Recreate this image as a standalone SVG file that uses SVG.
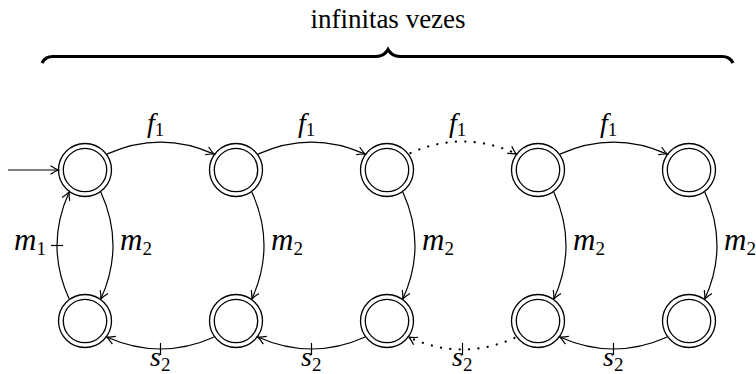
<svg xmlns="http://www.w3.org/2000/svg" width="756" height="374" viewBox="0 0 756 374">
<style>
.st{fill:none;stroke:#000;stroke-width:1.3}
.e{fill:none;stroke:#000;stroke-width:1.2}
.dot{stroke-width:2.2;stroke-linecap:round;stroke-dasharray:0.1 9.3}
.lbl{font-style:italic;font-size:28px;fill:#000}
.ml{font-size:31px}
.sub{font-style:normal;font-size:19px}
.txt{font-size:27px;fill:#000}
</style>
<defs>
<marker id="ar" markerUnits="userSpaceOnUse" viewBox="-10 -6 12 12" markerWidth="12" markerHeight="12" refX="0" refY="0" orient="auto" overflow="visible">
<path d="M -8 -4.2 Q -3 -1 0 0 Q -3 1 -8 4.2" fill="none" stroke="#000" stroke-width="1.2" stroke-dasharray="none"/>
</marker>
</defs>
<rect width="756" height="374" fill="#fff"/>
<g id="brace">
<path d="M 42 63 Q 45 56.5 53 56.5 L 376 56.5 Q 384 56.5 388 49.5 Q 392 56.5 400 56.5 L 722 56.5 Q 730 56.5 733 63" fill="none" stroke="#000" stroke-width="3.2"/>
<text class="txt" font-family="Liberation Serif, DejaVu Serif, serif" x="388" y="28" text-anchor="middle">infinitas vezes</text>
</g>
<g id="connectors">
<path class="e" d="M 8 170 L 58.5 170" marker-end="url(#ar)"/>
<path class="e" d="M 106.8 154.1 Q 160.5 130 214.2 154.1" marker-end="url(#ar)"/>
<path class="e" d="M 257.8 154.1 Q 311.5 130 365.2 154.1" marker-end="url(#ar)"/>
<path class="e dot" d="M 410.5 153 Q 462.5 130 514.5 153"/>
<path class="e" d="M 514.5 153 L 516.2 154.1" marker-end="url(#ar)"/>
<path class="e" d="M 559.8 154.1 Q 613.5 130 667.2 154.1" marker-end="url(#ar)"/>
<path class="e" d="M 214.2 337 Q 160.5 361 106.8 337" marker-end="url(#ar)"/>
<path class="e" d="M 365.2 337 Q 311.5 361 257.8 337" marker-end="url(#ar)"/>
<path class="e dot" d="M 514.5 338 Q 462.5 361 410.5 338"/>
<path class="e" d="M 410.5 338 L 408.8 337" marker-end="url(#ar)"/>
<path class="e" d="M 667.2 337 Q 613.5 361 559.8 337" marker-end="url(#ar)"/>
<path class="e" d="M 160.5 343 V 355 M 311.5 343 V 355 M 462.5 343 V 355 M 613.5 343 V 355"/>
<path class="e" d="M 100.8 191.9 Q 125.2 245.5 100.8 299.1" marker-end="url(#ar)"/>
<path class="e" d="M 251.8 191.9 Q 276.2 245.5 251.8 299.1" marker-end="url(#ar)"/>
<path class="e" d="M 402.8 191.9 Q 427.2 245.5 402.8 299.1" marker-end="url(#ar)"/>
<path class="e" d="M 553.8 191.9 Q 578.2 245.5 553.8 299.1" marker-end="url(#ar)"/>
<path class="e" d="M 704.8 191.9 Q 729.2 245.5 704.8 299.1" marker-end="url(#ar)"/>
<path class="e" d="M 69.2 299.1 Q 44.8 245.5 69.2 191.9" marker-end="url(#ar)"/>
<path class="e" d="M 51 245.5 H 63"/>
<g font-family="Liberation Serif, DejaVu Serif, serif">
<text class="lbl" x="147" y="132">f<tspan class="sub" dy="4">1</tspan></text>
<text class="lbl" x="298" y="132">f<tspan class="sub" dy="4">1</tspan></text>
<text class="lbl" x="449" y="132">f<tspan class="sub" dy="4">1</tspan></text>
<text class="lbl" x="600" y="132">f<tspan class="sub" dy="4">1</tspan></text>
<text class="lbl" x="150" y="366">s<tspan class="sub" dy="5">2</tspan></text>
<text class="lbl" x="301" y="366">s<tspan class="sub" dy="5">2</tspan></text>
<text class="lbl" x="452" y="366">s<tspan class="sub" dy="5">2</tspan></text>
<text class="lbl" x="603" y="366">s<tspan class="sub" dy="5">2</tspan></text>
<text class="lbl ml" x="120" y="250">m<tspan class="sub" dy="5">2</tspan></text>
<text class="lbl ml" x="271" y="250">m<tspan class="sub" dy="5">2</tspan></text>
<text class="lbl ml" x="422" y="250">m<tspan class="sub" dy="5">2</tspan></text>
<text class="lbl ml" x="573" y="250">m<tspan class="sub" dy="5">2</tspan></text>
<text class="lbl ml" x="724" y="250">m<tspan class="sub" dy="5">2</tspan></text>
<text class="lbl ml" x="14" y="250">m<tspan class="sub" dy="5">1</tspan></text>
</g>
</g>
<g id="q0t"><circle class="st" cx="85" cy="170" r="26.5"/><circle class="st" cx="85" cy="170" r="21.7"/></g>
<g id="q1t"><circle class="st" cx="236" cy="170" r="26.5"/><circle class="st" cx="236" cy="170" r="21.7"/></g>
<g id="q2t"><circle class="st" cx="387" cy="170" r="26.5"/><circle class="st" cx="387" cy="170" r="21.7"/></g>
<g id="q3t"><circle class="st" cx="538" cy="170" r="26.5"/><circle class="st" cx="538" cy="170" r="21.7"/></g>
<g id="q4t"><circle class="st" cx="689" cy="170" r="26.5"/><circle class="st" cx="689" cy="170" r="21.7"/></g>
<g id="q0b"><circle class="st" cx="85" cy="321" r="26.5"/><circle class="st" cx="85" cy="321" r="21.7"/></g>
<g id="q1b"><circle class="st" cx="236" cy="321" r="26.5"/><circle class="st" cx="236" cy="321" r="21.7"/></g>
<g id="q2b"><circle class="st" cx="387" cy="321" r="26.5"/><circle class="st" cx="387" cy="321" r="21.7"/></g>
<g id="q3b"><circle class="st" cx="538" cy="321" r="26.5"/><circle class="st" cx="538" cy="321" r="21.7"/></g>
<g id="q4b"><circle class="st" cx="689" cy="321" r="26.5"/><circle class="st" cx="689" cy="321" r="21.7"/></g>
</svg>
